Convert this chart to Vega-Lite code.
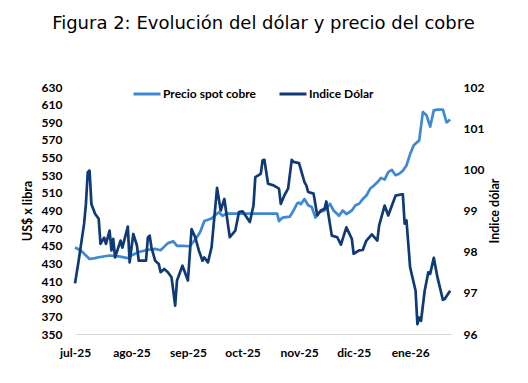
{
  "$schema": "https://vega.github.io/schema/vega-lite/v6.json",
  "autosize": {"type": "none"},
  "width": 377,
  "height": 247,
  "padding": {"left": 75, "top": 87, "right": 76, "bottom": 49},
  "background": "#ffffff",
  "config": {
    "view": {"stroke": null},
    "axis": {"labelFont": "Lato", "labelFontWeight": "bold", "labelFontSize": 12, "labelColor": "#000000", "titleFont": "Lato", "titleFontWeight": "bold", "titleFontSize": 12.5, "titleColor": "#000000", "grid": false, "ticks": false}
  },
  "title": {"text": "Figura 2: Evolución del dólar y precio del cobre", "font": "DejaVu Sans", "fontSize": 18, "fontWeight": "normal", "color": "#000000", "anchor": "middle", "frame": "group", "baseline": "alphabetic", "offset": 32},
  "data": {"values": [
    {"d": "2025/07/01", "s": "Precio spot cobre", "v": 448},
    {"d": "2025/07/04", "s": "Precio spot cobre", "v": 445},
    {"d": "2025/07/09", "s": "Precio spot cobre", "v": 435},
    {"d": "2025/07/12", "s": "Precio spot cobre", "v": 436},
    {"d": "2025/07/14", "s": "Precio spot cobre", "v": 437},
    {"d": "2025/07/20", "s": "Precio spot cobre", "v": 439},
    {"d": "2025/07/25", "s": "Precio spot cobre", "v": 438},
    {"d": "2025/07/30", "s": "Precio spot cobre", "v": 436},
    {"d": "2025/08/01", "s": "Precio spot cobre", "v": 439},
    {"d": "2025/08/05", "s": "Precio spot cobre", "v": 443},
    {"d": "2025/08/09", "s": "Precio spot cobre", "v": 445},
    {"d": "2025/08/14", "s": "Precio spot cobre", "v": 446.5},
    {"d": "2025/08/17", "s": "Precio spot cobre", "v": 445},
    {"d": "2025/08/21", "s": "Precio spot cobre", "v": 453},
    {"d": "2025/08/24", "s": "Precio spot cobre", "v": 455},
    {"d": "2025/08/26", "s": "Precio spot cobre", "v": 450},
    {"d": "2025/08/29", "s": "Precio spot cobre", "v": 450},
    {"d": "2025/09/02", "s": "Precio spot cobre", "v": 449.5},
    {"d": "2025/09/05", "s": "Precio spot cobre", "v": 457},
    {"d": "2025/09/07", "s": "Precio spot cobre", "v": 463},
    {"d": "2025/09/08", "s": "Precio spot cobre", "v": 467},
    {"d": "2025/09/10", "s": "Precio spot cobre", "v": 478},
    {"d": "2025/09/14", "s": "Precio spot cobre", "v": 481},
    {"d": "2025/09/15", "s": "Precio spot cobre", "v": 483},
    {"d": "2025/09/18", "s": "Precio spot cobre", "v": 488},
    {"d": "2025/09/20", "s": "Precio spot cobre", "v": 484},
    {"d": "2025/09/22", "s": "Precio spot cobre", "v": 486.5},
    {"d": "2025/10/20", "s": "Precio spot cobre", "v": 486.5},
    {"d": "2025/10/21", "s": "Precio spot cobre", "v": 478},
    {"d": "2025/10/23", "s": "Precio spot cobre", "v": 482},
    {"d": "2025/10/27", "s": "Precio spot cobre", "v": 483},
    {"d": "2025/10/29", "s": "Precio spot cobre", "v": 490},
    {"d": "2025/10/31", "s": "Precio spot cobre", "v": 498},
    {"d": "2025/11/01", "s": "Precio spot cobre", "v": 499},
    {"d": "2025/11/02", "s": "Precio spot cobre", "v": 497},
    {"d": "2025/11/04", "s": "Precio spot cobre", "v": 503},
    {"d": "2025/11/06", "s": "Precio spot cobre", "v": 496},
    {"d": "2025/11/08", "s": "Precio spot cobre", "v": 494},
    {"d": "2025/11/10", "s": "Precio spot cobre", "v": 482},
    {"d": "2025/11/12", "s": "Precio spot cobre", "v": 488},
    {"d": "2025/11/15", "s": "Precio spot cobre", "v": 490},
    {"d": "2025/11/18", "s": "Precio spot cobre", "v": 497.6},
    {"d": "2025/11/20", "s": "Precio spot cobre", "v": 490},
    {"d": "2025/11/23", "s": "Precio spot cobre", "v": 484},
    {"d": "2025/11/25", "s": "Precio spot cobre", "v": 490},
    {"d": "2025/11/27", "s": "Precio spot cobre", "v": 486},
    {"d": "2025/11/30", "s": "Precio spot cobre", "v": 490},
    {"d": "2025/12/02", "s": "Precio spot cobre", "v": 496},
    {"d": "2025/12/04", "s": "Precio spot cobre", "v": 497.6},
    {"d": "2025/12/06", "s": "Precio spot cobre", "v": 503},
    {"d": "2025/12/08", "s": "Precio spot cobre", "v": 507},
    {"d": "2025/12/10", "s": "Precio spot cobre", "v": 514.6},
    {"d": "2025/12/12", "s": "Precio spot cobre", "v": 518},
    {"d": "2025/12/14", "s": "Precio spot cobre", "v": 522},
    {"d": "2025/12/16", "s": "Precio spot cobre", "v": 527},
    {"d": "2025/12/18", "s": "Precio spot cobre", "v": 525},
    {"d": "2025/12/20", "s": "Precio spot cobre", "v": 533.5},
    {"d": "2025/12/22", "s": "Precio spot cobre", "v": 536},
    {"d": "2025/12/24", "s": "Precio spot cobre", "v": 530},
    {"d": "2025/12/26", "s": "Precio spot cobre", "v": 531.6},
    {"d": "2025/12/28", "s": "Precio spot cobre", "v": 535},
    {"d": "2025/12/30", "s": "Precio spot cobre", "v": 541},
    {"d": "2026/01/01", "s": "Precio spot cobre", "v": 554},
    {"d": "2026/01/03", "s": "Precio spot cobre", "v": 564},
    {"d": "2026/01/06", "s": "Precio spot cobre", "v": 569.5},
    {"d": "2026/01/08", "s": "Precio spot cobre", "v": 601.6},
    {"d": "2026/01/10", "s": "Precio spot cobre", "v": 598},
    {"d": "2026/01/12", "s": "Precio spot cobre", "v": 585},
    {"d": "2026/01/14", "s": "Precio spot cobre", "v": 603.5},
    {"d": "2026/01/16", "s": "Precio spot cobre", "v": 604.3},
    {"d": "2026/01/19", "s": "Precio spot cobre", "v": 604.3},
    {"d": "2026/01/21", "s": "Precio spot cobre", "v": 590},
    {"d": "2026/01/23", "s": "Precio spot cobre", "v": 593},
    {"d": "2025/07/01", "s": "Indice Dólar", "v": 97.23},
    {"d": "2025/07/03", "s": "Indice Dólar", "v": 97.78},
    {"d": "2025/07/06", "s": "Indice Dólar", "v": 98.68},
    {"d": "2025/07/07", "s": "Indice Dólar", "v": 99.16},
    {"d": "2025/07/08", "s": "Indice Dólar", "v": 99.93},
    {"d": "2025/07/09", "s": "Indice Dólar", "v": 99.97},
    {"d": "2025/07/10", "s": "Indice Dólar", "v": 99.16},
    {"d": "2025/07/12", "s": "Indice Dólar", "v": 98.92},
    {"d": "2025/07/14", "s": "Indice Dólar", "v": 98.8},
    {"d": "2025/07/15", "s": "Indice Dólar", "v": 98.19},
    {"d": "2025/07/17", "s": "Indice Dólar", "v": 98.34},
    {"d": "2025/07/18", "s": "Indice Dólar", "v": 98.19},
    {"d": "2025/07/20", "s": "Indice Dólar", "v": 98.51},
    {"d": "2025/07/21", "s": "Indice Dólar", "v": 98.03},
    {"d": "2025/07/22", "s": "Indice Dólar", "v": 98.31},
    {"d": "2025/07/23", "s": "Indice Dólar", "v": 97.86},
    {"d": "2025/07/26", "s": "Indice Dólar", "v": 98.27},
    {"d": "2025/07/27", "s": "Indice Dólar", "v": 98.1},
    {"d": "2025/07/30", "s": "Indice Dólar", "v": 98.61},
    {"d": "2025/07/31", "s": "Indice Dólar", "v": 97.74},
    {"d": "2025/08/02", "s": "Indice Dólar", "v": 98.43},
    {"d": "2025/08/04", "s": "Indice Dólar", "v": 98.15},
    {"d": "2025/08/05", "s": "Indice Dólar", "v": 97.78},
    {"d": "2025/08/09", "s": "Indice Dólar", "v": 97.78},
    {"d": "2025/08/10", "s": "Indice Dólar", "v": 98.34},
    {"d": "2025/08/11", "s": "Indice Dólar", "v": 98.39},
    {"d": "2025/08/12", "s": "Indice Dólar", "v": 98.1},
    {"d": "2025/08/14", "s": "Indice Dólar", "v": 97.78},
    {"d": "2025/08/16", "s": "Indice Dólar", "v": 97.7},
    {"d": "2025/08/17", "s": "Indice Dólar", "v": 97.5},
    {"d": "2025/08/19", "s": "Indice Dólar", "v": 97.58},
    {"d": "2025/08/21", "s": "Indice Dólar", "v": 97.5},
    {"d": "2025/08/23", "s": "Indice Dólar", "v": 97.38},
    {"d": "2025/08/25", "s": "Indice Dólar", "v": 96.69},
    {"d": "2025/08/26", "s": "Indice Dólar", "v": 97.3},
    {"d": "2025/08/29", "s": "Indice Dólar", "v": 97.66},
    {"d": "2025/09/01", "s": "Indice Dólar", "v": 97.3},
    {"d": "2025/09/03", "s": "Indice Dólar", "v": 98.55},
    {"d": "2025/09/05", "s": "Indice Dólar", "v": 98.35},
    {"d": "2025/09/07", "s": "Indice Dólar", "v": 98.03},
    {"d": "2025/09/09", "s": "Indice Dólar", "v": 97.78},
    {"d": "2025/09/10", "s": "Indice Dólar", "v": 97.86},
    {"d": "2025/09/12", "s": "Indice Dólar", "v": 97.74},
    {"d": "2025/09/14", "s": "Indice Dólar", "v": 98.11},
    {"d": "2025/09/17", "s": "Indice Dólar", "v": 99.55},
    {"d": "2025/09/19", "s": "Indice Dólar", "v": 99.0},
    {"d": "2025/09/21", "s": "Indice Dólar", "v": 99.28},
    {"d": "2025/09/24", "s": "Indice Dólar", "v": 98.35},
    {"d": "2025/09/27", "s": "Indice Dólar", "v": 98.51},
    {"d": "2025/09/29", "s": "Indice Dólar", "v": 98.96},
    {"d": "2025/10/01", "s": "Indice Dólar", "v": 98.98},
    {"d": "2025/10/05", "s": "Indice Dólar", "v": 98.72},
    {"d": "2025/10/07", "s": "Indice Dólar", "v": 99.12},
    {"d": "2025/10/08", "s": "Indice Dólar", "v": 99.81},
    {"d": "2025/10/11", "s": "Indice Dólar", "v": 99.89},
    {"d": "2025/10/12", "s": "Indice Dólar", "v": 100.22},
    {"d": "2025/10/13", "s": "Indice Dólar", "v": 100.23},
    {"d": "2025/10/15", "s": "Indice Dólar", "v": 99.65},
    {"d": "2025/10/18", "s": "Indice Dólar", "v": 99.61},
    {"d": "2025/10/21", "s": "Indice Dólar", "v": 99.53},
    {"d": "2025/10/22", "s": "Indice Dólar", "v": 99.16},
    {"d": "2025/10/24", "s": "Indice Dólar", "v": 99.37},
    {"d": "2025/10/26", "s": "Indice Dólar", "v": 99.53},
    {"d": "2025/10/28", "s": "Indice Dólar", "v": 100.23},
    {"d": "2025/10/29", "s": "Indice Dólar", "v": 100.18},
    {"d": "2025/11/01", "s": "Indice Dólar", "v": 100.15},
    {"d": "2025/11/04", "s": "Indice Dólar", "v": 99.69},
    {"d": "2025/11/05", "s": "Indice Dólar", "v": 99.61},
    {"d": "2025/11/06", "s": "Indice Dólar", "v": 99.45},
    {"d": "2025/11/09", "s": "Indice Dólar", "v": 99.41},
    {"d": "2025/11/11", "s": "Indice Dólar", "v": 98.88},
    {"d": "2025/11/13", "s": "Indice Dólar", "v": 99.0},
    {"d": "2025/11/15", "s": "Indice Dólar", "v": 99.04},
    {"d": "2025/11/16", "s": "Indice Dólar", "v": 99.22},
    {"d": "2025/11/19", "s": "Indice Dólar", "v": 98.39},
    {"d": "2025/11/22", "s": "Indice Dólar", "v": 98.35},
    {"d": "2025/11/24", "s": "Indice Dólar", "v": 98.17},
    {"d": "2025/11/27", "s": "Indice Dólar", "v": 98.59},
    {"d": "2025/11/30", "s": "Indice Dólar", "v": 98.31},
    {"d": "2025/12/01", "s": "Indice Dólar", "v": 97.95},
    {"d": "2025/12/04", "s": "Indice Dólar", "v": 98.03},
    {"d": "2025/12/06", "s": "Indice Dólar", "v": 98.04},
    {"d": "2025/12/08", "s": "Indice Dólar", "v": 98.27},
    {"d": "2025/12/11", "s": "Indice Dólar", "v": 98.42},
    {"d": "2025/12/14", "s": "Indice Dólar", "v": 98.27},
    {"d": "2025/12/15", "s": "Indice Dólar", "v": 98.64},
    {"d": "2025/12/18", "s": "Indice Dólar", "v": 99.12},
    {"d": "2025/12/20", "s": "Indice Dólar", "v": 98.88},
    {"d": "2025/12/22", "s": "Indice Dólar", "v": 99.12},
    {"d": "2025/12/24", "s": "Indice Dólar", "v": 99.36},
    {"d": "2025/12/27", "s": "Indice Dólar", "v": 99.39},
    {"d": "2025/12/28", "s": "Indice Dólar", "v": 99.39},
    {"d": "2025/12/29", "s": "Indice Dólar", "v": 98.68},
    {"d": "2025/12/30", "s": "Indice Dólar", "v": 98.76},
    {"d": "2026/01/01", "s": "Indice Dólar", "v": 97.62},
    {"d": "2026/01/04", "s": "Indice Dólar", "v": 97.05},
    {"d": "2026/01/05", "s": "Indice Dólar", "v": 96.24},
    {"d": "2026/01/06", "s": "Indice Dólar", "v": 96.4},
    {"d": "2026/01/07", "s": "Indice Dólar", "v": 96.32},
    {"d": "2026/01/09", "s": "Indice Dólar", "v": 97.05},
    {"d": "2026/01/11", "s": "Indice Dólar", "v": 97.5},
    {"d": "2026/01/12", "s": "Indice Dólar", "v": 97.46},
    {"d": "2026/01/14", "s": "Indice Dólar", "v": 97.85},
    {"d": "2026/01/16", "s": "Indice Dólar", "v": 97.38},
    {"d": "2026/01/19", "s": "Indice Dólar", "v": 96.83},
    {"d": "2026/01/20", "s": "Indice Dólar", "v": 96.85},
    {"d": "2026/01/23", "s": "Indice Dólar", "v": 97.05}
  ]},
  "layer": [
    {
      "transform": [{"filter": "datum.s === 'Precio spot cobre'"}],
      "mark": {"type": "line", "strokeWidth": 2.7, "strokeJoin": "round"},
      "encoding": {
        "x": {"field": "d", "type": "temporal",
          "scale": {"domain": [{"year": 2025, "month": 7, "date": 1}, {"year": 2026, "month": 1, "date": 24}]},
          "axis": {"title": null, "domain": true, "domainColor": "#d9d9d9", "domainWidth": 1, "labelPadding": 13, "labelAngle": 0, "labelFlush": false, "labelOverlap": false, "labelBound": false,
            "values": [{"year": 2025, "month": 7, "date": 1}, {"year": 2025, "month": 8, "date": 1}, {"year": 2025, "month": 9, "date": 1}, {"year": 2025, "month": 10, "date": 1}, {"year": 2025, "month": 11, "date": 1}, {"year": 2025, "month": 12, "date": 1}, {"year": 2026, "month": 1, "date": 1}],
            "labelExpr": "['ene','feb','mar','abr','may','jun','jul','ago','sep','oct','nov','dic'][month(datum.value)] + '-' + timeFormat(datum.value, '%y')"}},
        "y": {"field": "v", "type": "quantitative",
          "scale": {"domain": [350, 630], "nice": false, "zero": false},
          "axis": {"title": "US$ x libra", "orient": "left", "domain": false, "values": [350, 370, 390, 410, 430, 450, 470, 490, 510, 530, 550, 570, 590, 610, 630], "labelPadding": 13, "titlePadding": 7}},
        "color": {"field": "s", "type": "nominal",
          "scale": {"domain": ["Precio spot cobre", "Indice Dólar"], "range": ["#3f88d3", "#0f3a76"]},
          "legend": {"orient": "none", "legendX": 57, "legendY": -8, "direction": "horizontal", "title": null, "symbolType": "stroke", "symbolSize": 729, "symbolStrokeWidth": 3, "labelFont": "Lato", "labelFontWeight": "bold", "labelFontSize": 12, "labelColor": "#000000", "columnPadding": 16, "labelOffset": 1, "padding": 0}}
      }
    },
    {
      "transform": [{"filter": "datum.s === 'Indice Dólar'"}],
      "mark": {"type": "line", "strokeWidth": 2.7, "strokeJoin": "round"},
      "encoding": {
        "x": {"field": "d", "type": "temporal",
          "scale": {"domain": [{"year": 2025, "month": 7, "date": 1}, {"year": 2026, "month": 1, "date": 24}]}},
        "y": {"field": "v", "type": "quantitative",
          "scale": {"domain": [96, 102], "nice": false, "zero": false},
          "axis": {"title": "Indice dólar", "orient": "right", "domain": false, "values": [96, 97, 98, 99, 100, 101, 102], "labelPadding": 11, "titlePadding": 18, "titleAngle": 270}},
        "color": {"field": "s", "type": "nominal"}
      }
    }
  ],
  "resolve": {"scale": {"y": "independent"}}
}
